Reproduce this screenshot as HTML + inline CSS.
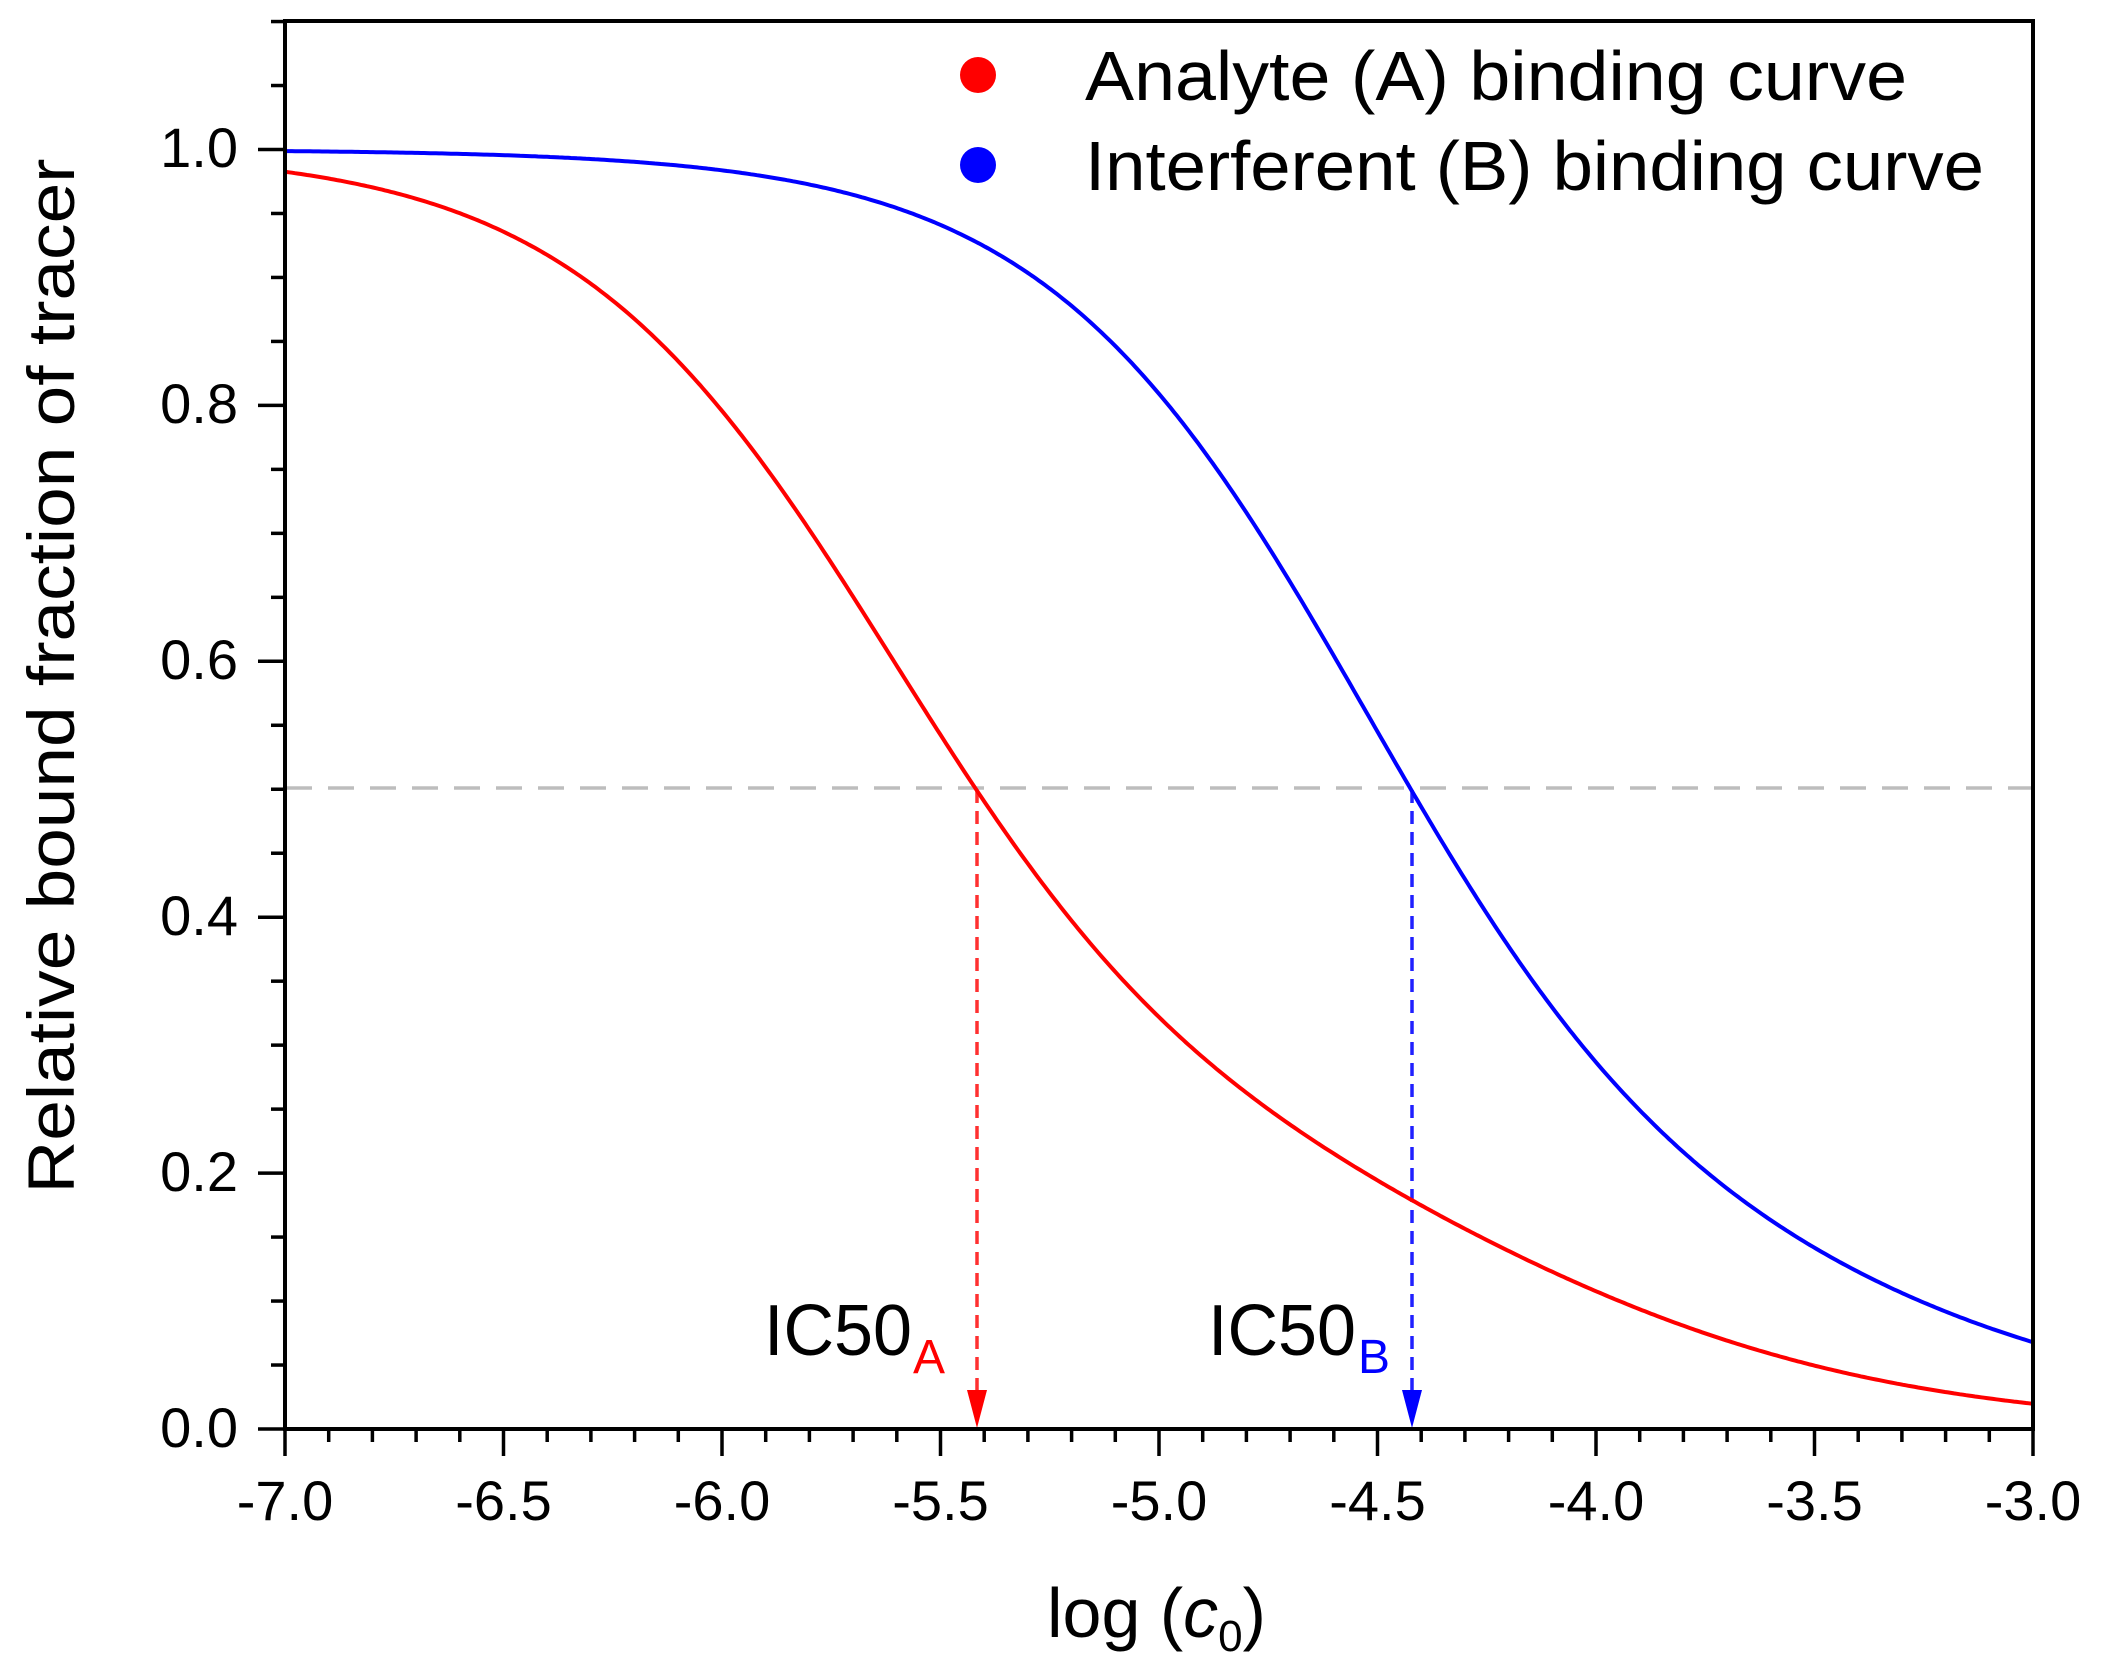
<!DOCTYPE html>
<html><head><meta charset="utf-8"><style>html,body{margin:0;padding:0;background:#fff}svg{display:block}text{font-family:"Liberation Sans",Arial,sans-serif}</style></head>
<body>
<svg id="s" width="2104" height="1672" viewBox="0 0 2104 1672" xmlns="http://www.w3.org/2000/svg">
<g id="ticks" stroke="#000" stroke-width="3.5"></g>
<line x1="286" y1="788" x2="2033" y2="788" stroke="#bdbdbd" stroke-width="3.5" stroke-dasharray="26,16"/>
<line x1="977" y1="790" x2="977" y2="1395" stroke="#ff3030" stroke-width="3.5" stroke-dasharray="13,8"/>
<line x1="1412" y1="790" x2="1412" y2="1395" stroke="#2020ff" stroke-width="3.5" stroke-dasharray="13,8"/>
<polygon points="967,1390 987,1390 977,1428" fill="#ff0000"/>
<polygon points="1402,1390 1422,1390 1412,1428" fill="#0000ff"/>
<path id="red" fill="none" stroke="#ff0000" stroke-width="4"/>
<path id="blue" fill="none" stroke="#0000ff" stroke-width="4"/>
<rect x="285" y="21" width="1748" height="1408" fill="none" stroke="#000" stroke-width="4"/>
<g font-size="56" text-anchor="end">
<text x="238" y="1447">0.0</text><text x="238" y="1191">0.2</text><text x="238" y="935">0.4</text><text x="238" y="679">0.6</text><text x="238" y="423">0.8</text><text x="238" y="167">1.0</text>
</g>
<g font-size="56" text-anchor="middle" id="xl"></g>
<text font-size="66" text-anchor="middle" transform="translate(74,676) rotate(-90)" textLength="1035" lengthAdjust="spacingAndGlyphs">Relative bound fraction of tracer</text>
<text x="1047" y="1637" font-size="70">log (<tspan font-style="italic">c</tspan><tspan font-size="44" dy="14">0</tspan><tspan dy="-14">)</tspan></text>
<circle cx="978" cy="75" r="18" fill="#ff0000"/>
<circle cx="978" cy="165" r="18" fill="#0000ff"/>
<text x="1085" y="100" font-size="70" textLength="822" lengthAdjust="spacingAndGlyphs">Analyte (A) binding curve</text>
<text x="1085" y="190" font-size="70" textLength="899" lengthAdjust="spacingAndGlyphs">Interferent (B) binding curve</text>
<text x="764" y="1355" font-size="72" textLength="148" lengthAdjust="spacingAndGlyphs">IC50</text>
<text x="913" y="1373" font-size="48" fill="#ff0000">A</text>
<text x="1208" y="1355" font-size="72" textLength="148" lengthAdjust="spacingAndGlyphs">IC50</text>
<text x="1358" y="1373" font-size="48" fill="#0000ff">B</text>
</svg>
<script>
var NS="http://www.w3.org/2000/svg",t=document.getElementById('ticks'),xl=document.getElementById('xl');
function L(a,b,c,d){var l=document.createElementNS(NS,'line');l.setAttribute('x1',a);l.setAttribute('y1',b);l.setAttribute('x2',c);l.setAttribute('y2',d);t.appendChild(l);}
for(var i=0;i<=40;i++){var x=285+i*1748/40;L(x,1429,x,i%5==0?1456:1442);}
for(var i=0;i<=22;i++){var y=1429-i*1279.5/20;L(285,y,i%4==0?258:271,y);}
var labs=["-7.0","-6.5","-6.0","-5.5","-5.0","-4.5","-4.0","-3.5","-3.0"];
for(var i=0;i<9;i++){var e=document.createElementNS(NS,'text');e.setAttribute('x',285+i*218.5);e.setAttribute('y',1520);e.textContent=labs[i];xl.appendChild(e);}
function lg(x,c,h){return 1/(1+Math.pow(10,h*(x-c)));}
function curve(f){var d="";for(var X=286;X<=2033;X+=3){var x=(X-285)/437-7;var Y=1429-1279.5*f(x);d+=(X==286?"M":"L")+X+","+Y.toFixed(1);}return d;}
document.getElementById('red').setAttribute('d',curve(function(x){return 0.75*lg(x,-5.63,1.2)+0.25*lg(x,-4.2,0.9);}));
document.getElementById('blue').setAttribute('d',curve(function(x){return 0.8*lg(x,-4.55,1.2)+0.2*lg(x,-3.5,0.8);}));
</script>
</body></html>
